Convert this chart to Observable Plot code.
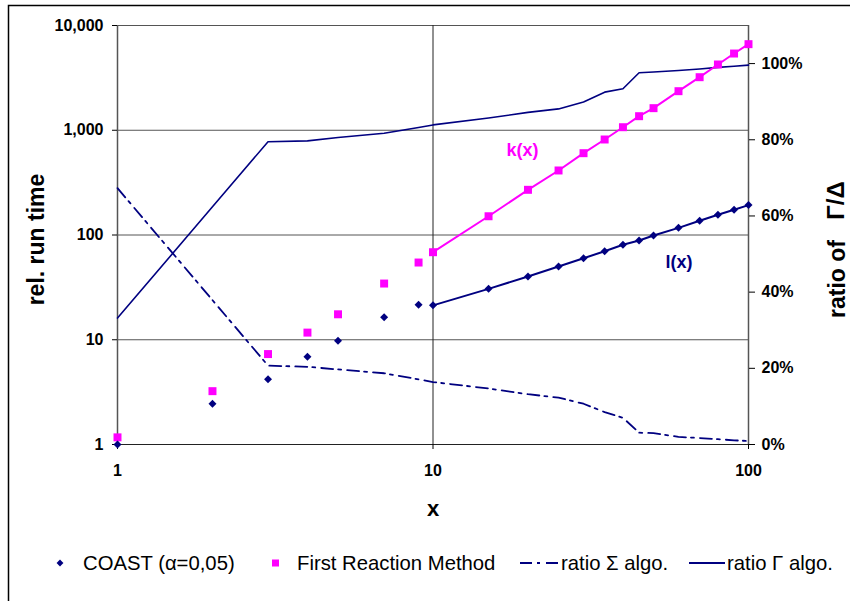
<!DOCTYPE html>
<html><head><meta charset="utf-8">
<script src="https://cdn.jsdelivr.net/npm/d3@7"></script>
<script src="https://cdn.jsdelivr.net/npm/@observablehq/plot@0.6"></script>
<style>body{margin:0;background:#fff;} svg{display:block}</style>
</head><body><div id="chart"></div>
<script>
// ---- data ----
const xValues = [1, 2, 3, 4, 5, 7, 9, 10, 15, 20, 25, 30, 35, 40, 45, 50, 60, 70, 80, 90, 100];
const coast = [1.0, 2.45, 4.2, 6.9, 9.8, 16.4, 21.6, 21.3, 30.6, 40.2, 50, 60, 70, 80.6, 88.6, 99, 117, 137, 156, 174, 193];
const firstReaction = [1.17, 3.23, 7.3, 11.7, 17.5, 34.4, 54.6, 68.5, 151, 270, 413, 604, 816, 1069, 1362, 1625, 2360, 3210, 4245, 5400, 6635];
const ratioSigma = [0.673, 0.379, 0.207, 0.204, 0.197, 0.187, 0.171, 0.164, 0.147, 0.132, 0.123, 0.107, 0.085, 0.070, 0.031, 0.030, 0.020, 0.017, 0.014, 0.011, 0.009];
const ratioGamma = [0.332, 0.624, 0.795, 0.797, 0.806, 0.817, 0.832, 0.839, 0.857, 0.872, 0.881, 0.899, 0.925, 0.934, 0.976, 0.978, 0.982, 0.986, 0.990, 0.993, 0.996];
const yTicks = [1, 10, 100, 1000, 10000];
const xTicks = [1, 10, 100];
const ratioTicks = [0, 0.2, 0.4, 0.6, 0.8, 1.0];
const annText = ["k(x)", "l(x)"];
const annX = [19.2, 60.2];
const annY = [641, 54.6];
const annColor = ["#FF00FF", "#000080"];
const legendLabels = ["COAST (α=0,05)", "First Reaction Method", "ratio Σ algo.", "ratio Γ algo."];

// ---- secondary axis mapping (0..110% onto the 4 log decades) ----
const ratioMax = 1.1;
const toY = r => Math.pow(10, r * 4 / ratioMax);

const navy = "#000080", magenta = "#FF00FF";
const rows = xValues.map((x, i) => ({x, coast: coast[i], frm: firstReaction[i], sigma: toY(ratioSigma[i]), gamma: toY(ratioGamma[i])}));
const fitRows = rows.filter(d => d.x >= 10);
const ann = annText.map((t, i) => ({t, x: annX[i], y: annY[i], c: annColor[i]}));
const rTickRows = ratioTicks.map(r => ({y: toY(r), label: Math.round(r * 100) + "%"}));

const chart = Plot.plot({
  width: 850, height: 601,
  marginLeft: 117, marginRight: 102, marginTop: 25, marginBottom: 157,
  x: {type: "log", domain: [1, 100]},
  y: {type: "log", domain: [1, 10000]},
  style: {fontFamily: "'Liberation Sans', Arial, sans-serif", fontSize: "16px", fontWeight: "bold", background: "#fff", color: "#000"},
  marks: [
    Plot.ruleY(yTicks, {stroke: "#555"}),
    Plot.ruleX([10], {stroke: "#222"}),
    Plot.ruleX([1, 100], {stroke: "#555", strokeWidth: 1.5}),
    Plot.ruleY([1], {stroke: "#222"}),
    Plot.axisY(yTicks, {anchor: "left", tickSize: 5, tickPadding: 9, tickFormat: d3.format(","), label: null}),
    Plot.axisX(xTicks, {anchor: "bottom", tickSize: 5, tickPadding: 15, tickFormat: d => String(d), label: null}),
    Plot.axisY(rTickRows.map(d => d.y), {anchor: "right", tickSize: 6, tickFormat: () => "", label: null}),
    Plot.text(rTickRows, {y: "y", text: "label", frameAnchor: "right", textAnchor: "start", dx: 13}),
    Plot.line(rows, {x: "x", y: "gamma", stroke: navy, strokeWidth: 1.6}),
    Plot.line(rows, {x: "x", y: "sigma", stroke: navy, strokeWidth: 1.8, strokeDasharray: "12,5,3,6"}),
    Plot.line(fitRows, {x: "x", y: "frm", stroke: magenta, strokeWidth: 2}),
    Plot.line(fitRows, {x: "x", y: "coast", stroke: navy, strokeWidth: 2}),
    Plot.dot(rows, {x: "x", y: "frm", symbol: "square", fill: magenta, r: 4.5}),
    Plot.dot(rows, {x: "x", y: "coast", symbol: "diamond2", fill: navy, r: 3.6}),
    Plot.text(ann, {x: "x", y: "y", text: "t", fill: "c", fontSize: 18, fontWeight: "bold"}),
    Plot.text(["x"], {frameAnchor: "bottom", lineAnchor: "middle", dy: 64, fontSize: 22, fontWeight: "bold"}),
    Plot.text(["rel. run time"], {frameAnchor: "left", textAnchor: "middle", lineAnchor: "middle", rotate: -90, dx: -81, dy: 4.5, fontSize: 23, fontWeight: "bold"}),
    Plot.text(["ratio of"], {frameAnchor: "right", textAnchor: "middle", lineAnchor: "middle", rotate: -90, dx: 89, dy: 44, fontSize: 23, fontWeight: "bold"}),
    Plot.text(["Γ/Δ"], {frameAnchor: "right", textAnchor: "middle", lineAnchor: "middle", rotate: -90, dx: 88, dy: -34.5, fontSize: 24, fontWeight: "bold"})
  ]
});
document.getElementById("chart").appendChild(chart);

// ---- chart-area frame and legend ----
const svg = d3.select(chart);
svg.append("path").attr("d", "M8.5,601V5.5H850").attr("fill", "none").attr("stroke", "#000").attr("stroke-width", 1.5);
const lg = svg.append("g").attr("font-weight", "normal").attr("font-size", 20.3).attr("text-anchor", "start").attr("font-family", "'Liberation Sans', Arial, sans-serif");
const ly = 563;
lg.append("path").attr("transform", `translate(60,${ly})`).attr("d", d3.symbol(d3.symbolDiamond2, 30)()).attr("fill", navy);
lg.append("rect").attr("x", 272).attr("y", ly - 3.5).attr("width", 7).attr("height", 7).attr("fill", magenta);
lg.append("line").attr("x1", 520).attr("x2", 558).attr("y1", ly).attr("y2", ly).attr("stroke", navy).attr("stroke-width", 2).attr("stroke-dasharray", "12,5,3,6");
lg.append("line").attr("x1", 689).attr("x2", 725).attr("y1", ly).attr("y2", ly).attr("stroke", navy).attr("stroke-width", 2);
const lx = [83, 297, 561, 727];
legendLabels.forEach((t, i) => {
  lg.append("text").attr("x", lx[i]).attr("y", ly).attr("dy", "0.35em").text(t);
});
</script>
</body></html>
